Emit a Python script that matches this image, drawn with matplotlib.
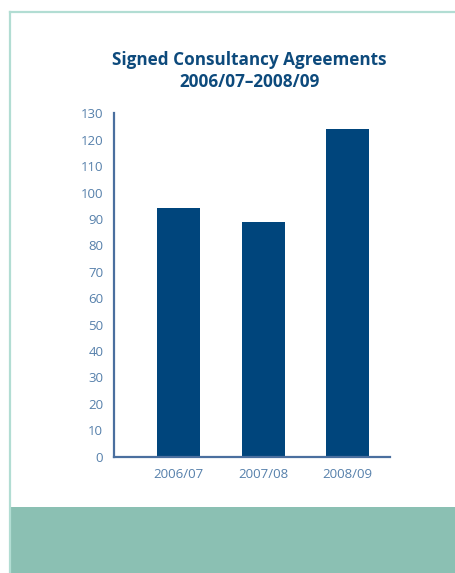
import matplotlib
matplotlib.use("Agg")
import matplotlib.pyplot as plt
from matplotlib.patches import Rectangle
from matplotlib.lines import Line2D

# Data
categories = ["2006/07", "2007/08", "2008/09"]
values = [94, 89, 124]
yticks = list(range(0, 131, 10))
title = "Signed Consultancy Agreements\n2006/07\u20132008/09"

W, H = 456, 573
fig = plt.figure(figsize=(W / 100, H / 100), dpi=100)
fig.patch.set_facecolor("white")

frame_col = "#b2ddd3"
box_col = "#8bc0b3"
bar_col = "#00457c"
axis_col = "#4a6f9f"
tick_col = "#5680ab"
title_col = "#0d4a7c"

# decorative frame (left and top lines) and bottom box
fig.add_artist(Line2D([10 / W, 10 / W], [1 - 12 / H, 0], transform=fig.transFigure,
                      color=frame_col, lw=1.6))
fig.add_artist(Line2D([10 / W, 1], [1 - 12 / H, 1 - 12 / H], transform=fig.transFigure,
                      color=frame_col, lw=1.6))
fig.add_artist(Rectangle((9 / W, 0), 1 - 9 / W, (H - 507) / H, transform=fig.transFigure,
                         facecolor=box_col, edgecolor="none"))

ax = fig.add_axes([114.3 / W, (H - 456.7) / H, (390 - 114.3) / W, (456.7 - 113.3) / H])
x = list(range(len(categories)))
ax.bar(x, values, width=0.51, color=bar_col, zorder=2)
ax.set_xlim(-0.76, 2.50)
ax.set_ylim(0, 130)
ax.set_yticks(yticks)
ax.set_xticks(x)
ax.set_xticklabels(categories)

for s in ["top", "right"]:
    ax.spines[s].set_visible(False)
for s in ["left", "bottom"]:
    ax.spines[s].set_color(axis_col)
    ax.spines[s].set_linewidth(1.6)

ax.tick_params(axis="both", length=0, colors=tick_col, labelsize=9.5)
ax.tick_params(axis="y", pad=8)
ax.tick_params(axis="x", pad=8)
for lab in ax.get_xticklabels() + ax.get_yticklabels():
    lab.set_fontfamily("Open Sans")
    lab.set_fontweight("normal")

fig.text(249.5 / W, 1 - 71 / H, title, ha="center", va="center", color=title_col,
         fontsize=12.3, fontweight="bold", family="Open Sans", linespacing=1.25)

fig.savefig("out.png", dpi=100)
